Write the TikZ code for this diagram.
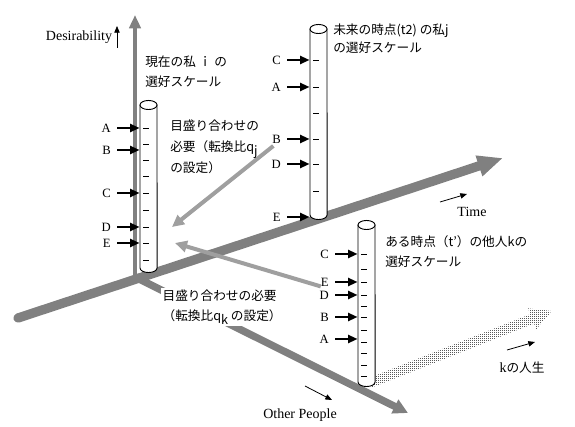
\documentclass[tikz,border=0pt]{standalone}
\usepackage{fontspec}
\setmainfont{Liberation Serif}
\newfontfamily\jpfont{Noto Sans CJK JP}
\usetikzlibrary{arrows.meta,positioning,calc,patterns}
\pgfdeclarepatternformonly{pixdots}{\pgfqpoint{0pt}{0pt}}{\pgfqpoint{0.75pt}{0.75pt}}{\pgfqpoint{1.5pt}{1.5pt}}{%
  \pgfpathrectangle{\pgfqpoint{0pt}{0pt}}{\pgfqpoint{0.75pt}{0.75pt}}\pgfusepath{fill}}

\begin{document}
\begin{tikzpicture}[x=0.75pt, y=-0.75pt,
    letter/.style={font=\fontsize{9.5}{11}\selectfont, inner sep=0pt, anchor=east},
    pointer/.style={-{Triangle[length=7pt,width=6pt]}, line width=1.5pt, shorten <=4.5pt},
    tube/.style={draw, fill=white, line width=0.7pt},
    tick/.style={line width=0.6pt},
    axis/.style={draw=gray, line width=#1},
    match/.style={draw=gray!75, line width=3pt, -{Triangle[length=9pt,width=8.5pt]}},
    note/.style={font=\jpfont\fontsize{9.5}{#1}\selectfont, align=left, inner sep=0pt, anchor=west},
    note/.default=15,
    axlabel/.style={font=\fontsize{10.5}{12}\selectfont, inner sep=0pt},
    cue/.style={-{Triangle[length=5pt,width=4pt]}, line width=0.6pt}
]
\useasboundingbox (0,0) rectangle (575,427);

\coordinate (kS) at (370,383);
\coordinate (kT) at (552,311);
\coordinate (kH) at ($(kT)!16pt!(kS)$);
\fill[pattern=pixdots, pattern color=black!65]
  ($(kS)!3.75pt!90:(kT)$) -- ($(kH)!3.75pt!90:(kT)$) -- ($(kH)!8.5pt!90:(kT)$) -- (kT)
  -- ($(kH)!8.5pt!-90:(kT)$) -- ($(kH)!3.75pt!-90:(kT)$) -- ($(kS)!3.75pt!-90:(kT)$) -- cycle;

\coordinate (O) at (135,277);
\coordinate (desTip) at (135,15);
\coordinate (timeTail) at (18,318);
\coordinate (timeTip) at (503,158);
\coordinate (otherTip) at (408,413);
\draw[axis=3pt, -{Triangle[length=10pt,width=8.5pt]}] (O) -- (desTip);
\draw[axis=7pt, line cap=round, -{Triangle[length=19pt,width=15pt]}] (timeTail) -- (timeTip);
\draw[axis=5.5pt, -{Triangle[length=11pt,width=11pt]}] (O) -- (otherTip);

\foreach \c/\l/\t/\b in {i/140/105/268, j/310/29/215, k/358/225/382}{
  \draw[tube] (\l,\t) -- (\l,\b) arc[start angle=180, end angle=360, x radius=6.4pt, y radius=3.4pt] -- (\l+17,\t);
  \draw[tube] (\l+8.5,\t) ellipse[x radius=6.4pt, y radius=3.4pt];
}
\foreach \y in {128,144,160,176,193,210,227,243,260} \draw[tick] (143,\y) -- (149,\y);
\foreach \y in {60,87,113,139,164,191} \draw[tick] (313,\y) -- (319,\y);
\foreach \y in {254,269,282,295,306,317,330,342,353,365,376} \draw[tick] (361,\y) -- (367,\y);

\foreach \lbl/\y in {A/128,B/150,C/193,D/227,E/243}{
  \node[letter] (i\lbl) at (111,\y) {\lbl};
  \coordinate (i\lbl-tip) at (139.5,\y);
  \draw[pointer] (i\lbl.east) -- (i\lbl-tip);
}
\foreach \lbl/\y in {C/60,A/87,B/139,D/164,E/217}{
  \node[letter] (j\lbl) at (281,\y) {\lbl};
  \coordinate (j\lbl-tip) at (309.5,\y);
  \draw[pointer] (j\lbl.east) -- (j\lbl-tip);
}
\foreach \lbl/\y in {C/254,E/282,D/295,B/317,A/339}{
  \node[letter] (k\lbl) at (329,\y) {\lbl};
  \coordinate (k\lbl-tip) at (357.5,\y);
  \draw[pointer] (k\lbl.east) -- (k\lbl-tip);
}

\coordinate (qjTip) at (172,227);
\coordinate (qkTip) at (175,243);
\draw[match, shorten <=3pt] (jB.south) -- (qjTip);
\draw[match] (kE.south west) -- (qkTip);

\node[note] (tI) at (145,72) {現在の私 ｉ の\\選好スケール};
\node[note=15.75] (tQj) at (170,147) {目盛り合わせの\\必要（転換比q\raisebox{-3pt}{j}\\の設定）};
\node[note=13.5] (tJ) at (333,39) {未来の時点(t2) の私j\\の選好スケール};
\node[note] (tK) at (385,252) {ある時点（t’）の他人kの\\選好スケール};
\node[note, fill=white, inner sep=1pt] (tQk) at (161,307) {目盛り合わせの必要\\（転換比q\raisebox{-3pt}{k} の設定）};

\node[axlabel] (tDes) at (79,37) {Desirability};
\coordinate (desA) at (117,48);
\coordinate (desB) at (117,26);
\draw[cue] (desA) -- (desB);
\node[axlabel] (tTime) at (472,212) {Time};
\coordinate (timeA) at (440,202);
\coordinate (timeB) at (467,194);
\draw[cue] (timeA) -- (timeB);
\node[axlabel] (tOther) at (300,415) {Other People};
\coordinate (otherA) at (305,386);
\coordinate (otherB) at (332,400);
\draw[cue] (otherA) -- (otherB);
\node[axlabel] (tLife) at (522,368) {k{\jpfont\fontsize{9.5}{11}\selectfont の人生}};
\coordinate (lifeA) at (507,350);
\coordinate (lifeB) at (535,342);
\draw[cue] (lifeA) -- (lifeB);
\end{tikzpicture}
\end{document}
